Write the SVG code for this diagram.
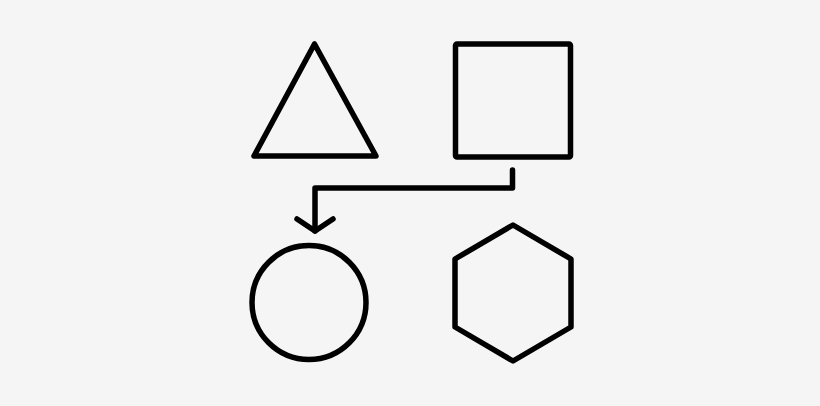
<svg xmlns="http://www.w3.org/2000/svg" width="820" height="406" viewBox="0 0 820 406">
<style>
.s{fill:none;stroke:#000;stroke-width:5.5;stroke-linejoin:round;stroke-linecap:round}
</style>
<rect width="820" height="406" fill="#f5f5f5"/>
<g id="triangle"><polygon class="s" points="314.5,44 254,156 376,156"/></g>
<g id="square"><rect class="s" x="455.5" y="44" width="115" height="113" rx="1.5"/></g>
<g id="circle"><circle class="s" cx="309" cy="302.5" r="57"/></g>
<g id="hexagon"><polygon class="s" points="513,225 571,259 571,327 513,361 455,327 455,259"/></g>
<g id="connectors">
<polyline class="s" points="512.5,170 512.5,188 315,188 315,231"/>
<polyline class="s" points="297,219 315,231 333,219"/>
</g>
</svg>
